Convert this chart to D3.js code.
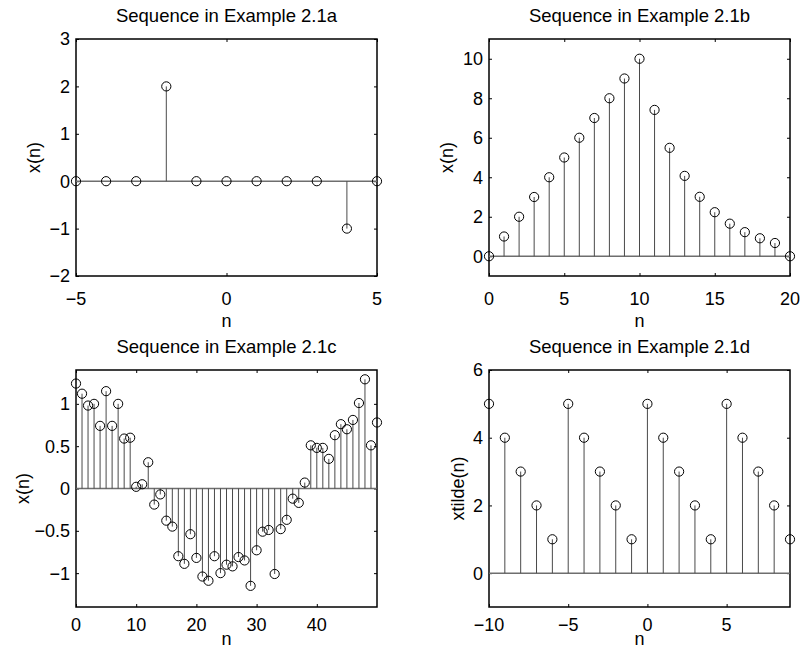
<!DOCTYPE html>
<html>
<head>
<meta charset="utf-8">
<script src="https://cdn.jsdelivr.net/npm/d3@7"></script>
<style>
  html, body { margin: 0; padding: 0; background: #fff; }
  svg text { font-family: "Liberation Sans", Arial, Helvetica, sans-serif; fill: #000; }
</style>
</head>
<body>
<svg id="fig" width="805" height="652"></svg>
<script>
// ---------- data ----------
const titles = ["Sequence in Example 2.1a", "Sequence in Example 2.1b", "Sequence in Example 2.1c", "Sequence in Example 2.1d"];
const yLabels = ["x(n)", "x(n)", "x(n)", "xtilde(n)"];
const xLabel = "n";

const nA = [-5, -4, -3, -2, -1, 0, 1, 2, 3, 4, 5];
const xA = [0, 0, 0, 2, 0, 0, 0, 0, 0, -1, 0];
const xTicksA = [-5, 0, 5];
const yTicksA = [-2, -1, 0, 1, 2, 3];

const nB = [0, 1, 2, 3, 4, 5, 6, 7, 8, 9, 10, 11, 12, 13, 14, 15, 16, 17, 18, 19, 20];
const xB = [0, 1, 2, 3, 4, 5, 6, 7, 8, 9, 10, 7.41, 5.49, 4.07, 3.01, 2.23, 1.65, 1.22, 0.91, 0.67, 0];
const xTicksB = [0, 5, 10, 15, 20];
const yTicksB = [0, 2, 4, 6, 8, 10];

const nC = [0, 1, 2, 3, 4, 5, 6, 7, 8, 9, 10, 11, 12, 13, 14, 15, 16, 17, 18, 19, 20,
            21, 22, 23, 24, 25, 26, 27, 28, 29, 30, 31, 32, 33, 34, 35, 36, 37, 38, 39, 40,
            41, 42, 43, 44, 45, 46, 47, 48, 49, 50];
const xC = [1.24, 1.12, 0.98, 1.00, 0.74, 1.15, 0.74, 1.00, 0.59, 0.60,
            0.02, 0.05, 0.31, -0.19, -0.07, -0.38, -0.45, -0.80, -0.89, -0.54,
            -0.82, -1.04, -1.09, -0.80, -1.00, -0.90, -0.92, -0.81, -0.85, -1.15,
            -0.73, -0.51, -0.49, -1.01, -0.48, -0.37, -0.12, -0.17, 0.07, 0.51,
            0.48, 0.48, 0.35, 0.63, 0.76, 0.70, 0.81, 1.01, 1.29, 0.51, 0.78];
const xTicksC = [0, 10, 20, 30, 40];
const yTicksC = [-1, -0.5, 0, 0.5, 1];

const nD = [-10, -9, -8, -7, -6, -5, -4, -3, -2, -1, 0, 1, 2, 3, 4, 5, 6, 7, 8, 9];
const xD = [5, 4, 3, 2, 1, 5, 4, 3, 2, 1, 5, 4, 3, 2, 1, 5, 4, 3, 2, 1];
const xTicksD = [-10, -5, 0, 5];
const yTicksD = [0, 2, 4, 6];

// ---------- layout ----------
const panels = [
  { n: nA, x: xA, xd: [-5, 5],  yd: [-2, 3],     xt: xTicksA, yt: yTicksA, left: 76,  top: 39,  tickOff: 29, labOff: 51, ylabX: 40 },
  { n: nB, x: xB, xd: [0, 20],  yd: [-1, 11],    xt: xTicksB, yt: yTicksB, left: 489, top: 39,  tickOff: 29, labOff: 51, ylabX: 453 },
  { n: nC, x: xC, xd: [0, 50],  yd: [-1.4, 1.4], xt: xTicksC, yt: yTicksC, left: 76,  top: 370, tickOff: 24, labOff: 38, ylabX: 29 },
  { n: nD, x: xD, xd: [-10, 9], yd: [-1, 6],     xt: xTicksD, yt: yTicksD, left: 489, top: 370, tickOff: 24, labOff: 38, ylabX: 464 }
];
const W = 301, H = 237;
const fmt = d => (d < 0 ? "\u2212" : "") + Math.abs(d);

const svg = d3.select("#fig");

panels.forEach((p, i) => {
  const g = svg.append("g").attr("transform", `translate(${p.left},${p.top})`);
  const xs = d3.scaleLinear().domain(p.xd).range([0, W]);
  const ys = d3.scaleLinear().domain(p.yd).range([H, 0]);

  // inner ticks on all four sides
  const tk = 3;
  g.append("g").attr("transform", `translate(0,${H})`)
    .call(d3.axisBottom(xs).tickValues(p.xt).tickSize(-tk).tickFormat(""))
    .call(a => a.select(".domain").remove());
  g.append("g")
    .call(d3.axisTop(xs).tickValues(p.xt).tickSize(-tk).tickFormat(""))
    .call(a => a.select(".domain").remove());
  g.append("g")
    .call(d3.axisLeft(ys).tickValues(p.yt).tickSize(-tk).tickFormat(""))
    .call(a => a.select(".domain").remove());
  g.append("g").attr("transform", `translate(${W},0)`)
    .call(d3.axisRight(ys).tickValues(p.yt).tickSize(-tk).tickFormat(""))
    .call(a => a.select(".domain").remove());
  g.selectAll(".tick line").attr("stroke", "#000").attr("stroke-width", 1);

  // tick labels
  g.append("g").selectAll("text").data(p.xt).join("text")
    .attr("x", d => xs(d)).attr("y", H + p.tickOff)
    .attr("text-anchor", "middle").attr("font-size", 18).text(fmt);
  g.append("g").selectAll("text").data(p.yt).join("text")
    .attr("x", -6).attr("y", d => ys(d)).attr("dy", "0.36em")
    .attr("text-anchor", "end").attr("font-size", 18).text(fmt);

  // box
  g.append("rect").attr("x", 0).attr("y", 0).attr("width", W).attr("height", H)
    .attr("fill", "none").attr("stroke", "#000").attr("stroke-width", 1.5);

  // baseline
  g.append("line")
    .attr("x1", xs(p.xd[0])).attr("x2", xs(p.xd[1]))
    .attr("y1", ys(0)).attr("y2", ys(0))
    .attr("stroke", "#6e6e6e").attr("stroke-width", 1.5);

  const pts = p.n.map((n, k) => ({ n, v: p.x[k] }));
  // stems
  g.append("g").selectAll("line").data(pts).join("line")
    .attr("x1", d => xs(d.n)).attr("x2", d => xs(d.n))
    .attr("y1", ys(0)).attr("y2", d => ys(d.v))
    .attr("stroke", "#4a4a4a").attr("stroke-width", 1);
  // markers
  g.append("g").selectAll("circle").data(pts).join("circle")
    .attr("cx", d => xs(d.n)).attr("cy", d => ys(d.v)).attr("r", 4.6)
    .attr("fill", "none").attr("stroke", "#000").attr("stroke-width", 1);

  // title
  g.append("text").attr("x", W / 2).attr("y", -17)
    .attr("text-anchor", "middle").attr("font-size", 18.5).text(titles[i]);
  // x label
  g.append("text").attr("x", W / 2).attr("y", H + p.labOff)
    .attr("text-anchor", "middle").attr("font-size", 18).text(xLabel);
  // y label
  svg.append("text")
    .attr("transform", `translate(${p.ylabX},${p.top + H / 2}) rotate(-90)`)
    .attr("text-anchor", "middle").attr("font-size", 18).text(yLabels[i]);
});
</script>
</body>
</html>
